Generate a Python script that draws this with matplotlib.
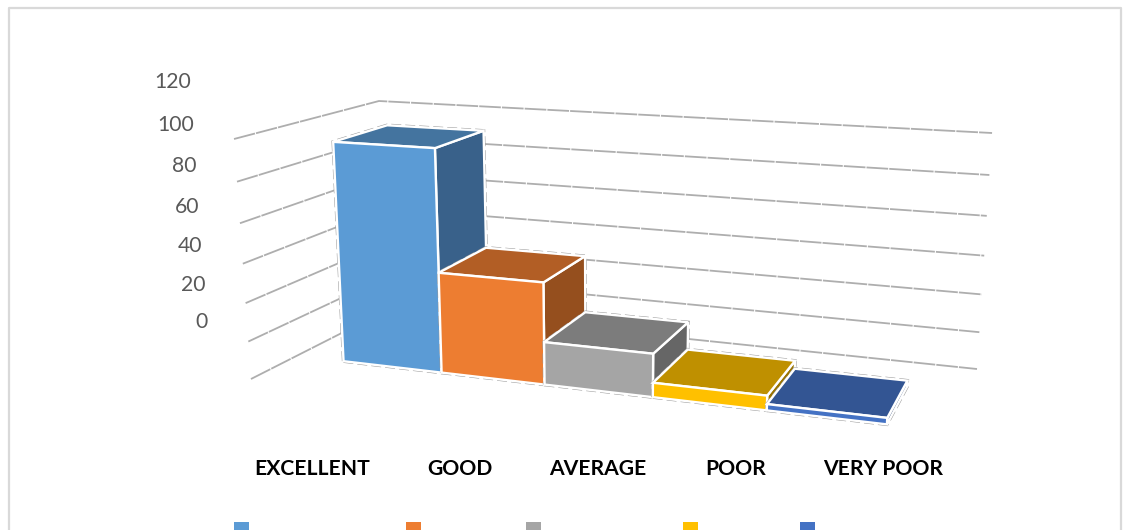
import numpy as np
import matplotlib
matplotlib.use("Agg")
import matplotlib.pyplot as plt
from matplotlib.patches import Polygon, Rectangle

# ---- data ----
categories = ["EXCELLENT", "GOOD", "AVERAGE", "POOR", "VERY POOR"]
values = [110, 50, 21, 7, 3]
ticks = [0, 20, 40, 60, 80, 100, 120]

# ---- styles ----
front_colors = ["#5B9BD5", "#ED7D31", "#A5A5A5", "#FFC000", "#4472C4"]
top_colors = ["#44749F", "#B25E25", "#7C7C7C", "#BF9000", "#335593"]
side_colors = ["#39618A", "#954F1E", "#666666", "#997300", "#294476"]
cat_label_x = [312.5, 460, 598, 735.5, 883.5]
legend_x = [234, 406, 526, 683, 800]
GRID = "#aeaeae"
FONT = ["Lato", "DejaVu Sans"]

# camera: category position, depth, value -> figure pixels
P = np.array([[87.5328165, 77.4699719, -0.2090156, 343.5353966],
              [2.5146623, -7.7101085, -2.0430957, 361.2154515],
              [-0.0238391, 0.065855, -0.0003447, 1.0]])


def proj(x, y, z):
    h = P @ np.array([x, y, z, 1.0])
    return h[0] / h[2], h[1] / h[2]


# wall corners in scene coordinates at value 0 and value 120
left_front = ((-0.516, -0.727), (-0.269, -1.113))
back_left = ((-0.442, 1.745), (-0.222, 1.262))
back_right = ((5.514, 1.705), (5.556, 1.222))


def corner(c, z):
    f = z / ticks[-1]
    return (c[0][0] + (c[1][0] - c[0][0]) * f, c[0][1] + (c[1][1] - c[0][1]) * f, z)


fig = plt.figure(figsize=(11.24, 5.3), dpi=100, facecolor="white")
ax = fig.add_axes([0, 0, 1, 1])
ax.set_xlim(0, 1124)
ax.set_ylim(530, 0)
ax.axis("off")

# chart frame
ax.plot([8.5, 8.5, 1120.5, 1120.5], [540, 7.5, 7.5, 540], color="#d9d9d9", lw=1.6, zorder=1)

# walls and tick labels
for t in ticks:
    pts = [proj(*corner(c, t)) for c in (left_front, back_left, back_right)]
    ax.plot(*zip(*pts), color=GRID, lw=1.3, ls=(0, (12, 0.6)), zorder=2, solid_joinstyle="miter")
    ax.text(pts[0][0] - 43, pts[0][1] - 57, str(t), ha="right", va="center",
            fontsize=15.2, color="#595959", family=FONT, zorder=3)

# bars, left to right so nearer bars cover the sides of earlier ones
z = 4
for i, v in enumerate(values):
    outline = [proj(i, 0, 0), proj(i + 1, 0, 0), proj(i + 1, 1, 0), proj(i + 1, 1, v),
               proj(i, 1, v), proj(i, 0, v)]
    ax.add_patch(Polygon(outline, closed=True, fc="white", ec="#9a9a9a", lw=2.4,
                         ls=(0, (3, 1.2)), joinstyle="miter", zorder=z))
    faces = [
        ([proj(i + 1, 0, 0), proj(i + 1, 1, 0), proj(i + 1, 1, v), proj(i + 1, 0, v)], side_colors[i]),
        ([proj(i, 0, v), proj(i + 1, 0, v), proj(i + 1, 1, v), proj(i, 1, v)], top_colors[i]),
        ([proj(i, 0, 0), proj(i + 1, 0, 0), proj(i + 1, 0, v), proj(i, 0, v)], front_colors[i]),
    ]
    for poly, col in faces:
        ax.add_patch(Polygon(poly, closed=True, fc=col, ec="white", lw=1.7,
                             joinstyle="miter", zorder=z + 1))
    z += 2

# category labels
for name, x in zip(categories, cat_label_x):
    ax.text(x, 469, name, ha="center", va="center", fontsize=15.2, fontweight="bold",
            color="black", family=FONT, zorder=20)

# legend keys, cut by the lower picture edge
for x, col in zip(legend_x, front_colors):
    ax.add_patch(Rectangle((x, 522), 15, 15, fc=col, ec="none", zorder=20))

fig.savefig("out.png", dpi=100)
